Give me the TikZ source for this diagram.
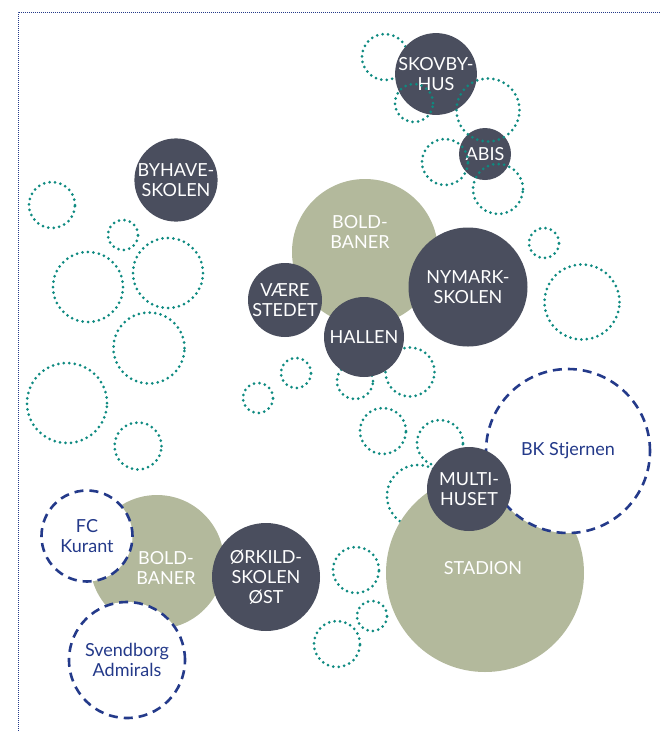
\documentclass[tikz,border=0pt]{standalone}
\usepackage{tikz}
\usepackage{fontspec}
\setmainfont{Lato}
\usepackage{xcolor}
\definecolor{slate}{HTML}{4A4E5E}
\definecolor{sage}{HTML}{B3B99C}
\definecolor{teal}{HTML}{0E8A80}
\definecolor{navy}{HTML}{243A8A}
\tikzstyle{school} = [circle, inner sep=0pt, fill=slate, text=white, align=center, font=\fontsize{18}{20}\selectfont]
\tikzstyle{field} = [circle, inner sep=0pt, fill=sage]
\tikzstyle{club} = [circle, inner sep=0pt, fill=white, draw=navy, line width=2.6pt, dash pattern=on 9pt off 6pt, text=navy, align=center, font=\fontsize{18}{20}\selectfont]
\tikzstyle{spot} = [circle, inner sep=0pt, draw=teal, line width=3pt, line cap=round, dash pattern=on 0pt off 5.5pt]
\tikzstyle{caption} = [text=white, align=center, font=\fontsize{18}{20}\selectfont]

\begin{document}
\begin{tikzpicture}[x=1pt, y=-1pt]
	\useasboundingbox (0,0) rectangle (660,732);
	%frame
	\draw[navy, line width=0.7pt, dash pattern=on 0.7pt off 1.3pt] (660,12) -- (18,12) -- (18,732);

	%spots behind
	\node[spot, minimum size=46pt] (s1) at (385,57) {};
	\node[spot, minimum size=30pt] (s6) at (544,243) {};
	\node[spot, minimum size=75pt] (s7) at (582,302) {};
	\node[spot, minimum size=46pt] (s8) at (52,205) {};
	\node[spot, minimum size=30pt] (s9) at (123,235) {};
	\node[spot, minimum size=70pt] (s10) at (88,287) {};
	\node[spot, minimum size=70pt] (s11) at (168,273) {};
	\node[spot, minimum size=71pt] (s12) at (149,348) {};
	\node[spot, minimum size=80pt] (s13) at (67,403) {};
	\node[spot, minimum size=47pt] (s14) at (138,446) {};
	\node[spot, minimum size=30pt] (s15) at (296,373) {};
	\node[spot, minimum size=30pt] (s16) at (258,398) {};
	\node[spot, minimum size=36pt] (s17) at (355,381) {};
	\node[spot, minimum size=49pt] (s18) at (410,372) {};
	\node[spot, minimum size=46pt] (s19) at (383,431) {};
	\node[spot, minimum size=46pt] (s20) at (440,443) {};
	\node[spot, minimum size=62pt] (s21) at (418,496) {};
	\node[spot, minimum size=46pt] (s22) at (356,570) {};
	\node[spot, minimum size=30pt] (s23) at (372,616) {};
	\node[spot, minimum size=46pt] (s24) at (337,644) {};

	%fields
	\node[field, minimum size=146pt] (bold1) at (365,252) {};
	\node[caption] (bold1txt) at (360,232) {BOLD-\\BANER};
	\node[field, minimum size=198pt] (stadion) at (485,573) {};
	\node[field, minimum size=134pt] (bold2) at (157,562) {};

	%clubs
	\node[club, minimum size=164pt] (bk) at (568,451) {BK Stjernen};
	\node[club, minimum size=91pt] (fc) at (87,536) {FC\\Kurant};
	\node[club, minimum size=116pt] (sva) at (127,660) {Svendborg\\Admirals};
	\node[caption] (stadiontxt) at (483,568) {STADION};
	\node[caption] (bold2txt) at (166,568) {BOLD-\\BANER};

	%schools
	\node[school, minimum size=74pt] (skovby) at (436,74) {SKOVBY-\\HUS};
	\node[school, minimum size=52pt] (abis) at (485,154) {ABIS};
	\node[school, minimum size=80pt] (byhave) at (176,180) {BYHAVE-\\SKOLEN};
	\node[school, minimum size=74pt] (vaere) at (285,300) {VÆRE\\STEDET};
	\node[school, minimum size=80pt] (hallen) at (364,337) {HALLEN};
	\node[school, minimum size=119pt] (nymark) at (468,287) {NYMARK-\\SKOLEN};
	\node[school, minimum size=84pt] (multi) at (469,489) {MULTI-\\HUSET};
	\node[school, minimum size=108pt] (orkild) at (266,577) {ØRKILD-\\SKOLEN\\ØST};

	%spots in front
	\node[spot, minimum size=38pt] (s2) at (414,103) {};
	\node[spot, minimum size=63pt] (s3) at (488,110) {};
	\node[spot, minimum size=46pt] (s4) at (445,162) {};
	\node[spot, minimum size=50pt] (s5) at (498,189) {};
\end{tikzpicture}
\end{document}
